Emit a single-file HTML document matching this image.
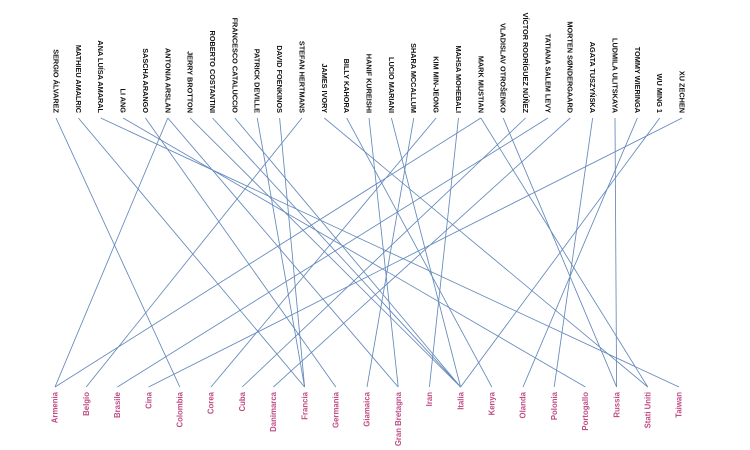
<!DOCTYPE html>
<html><head><meta charset="utf-8"><style>
html,body{margin:0;padding:0;background:#fff;}
svg{display:block;}
.n{font-family:"Liberation Sans",Arial,sans-serif;font-size:7.3px;font-weight:bold;fill:#111;}
.c{font-family:"Liberation Sans",Arial,sans-serif;font-size:7.8px;font-weight:bold;fill:#c04c86;}
line{stroke:#6388bb;stroke-width:0.85;}
</style></head><body>
<svg width="750" height="450" viewBox="0 0 750 450" xmlns="http://www.w3.org/2000/svg">
<g id="lines"></g>
<g id="names"></g>
<g id="countries"></g>
<script>
var names=["SERGIO ÁLVAREZ","MATHIEU AMALRIC","ANA LUÍSA AMARAL","LI ANG","SASCHA ARANGO","ANTONIA ARSLAN","JERRY BROTTON","ROBERTO COSTANTINI","FRANCESCO CATALUCCIO","PATRICK DEVILLE","DAVID FOENKINOS","STEFAN HERTMANS","JAMES IVORY","BILLY KAHORA","HANIF KUREISHI","LUCIO MARIANI","SHARA MCCALLUM","KIM MIN-JEONG","MAHSA MOHEBALI","MARK MUSTIAN","VLADISLAV OTROŠENKO","VÍCTOR RODRÍGUEZ NÚÑEZ","TATIANA SALEM LEVY","MORTEN SØNDERGAARD","AGATA TUSZYŃSKA","LUDMILA ULITSKAYA","TOMMY WIERINGA","WU MING 1","XU ZECHEN"];
var countries=["Armenia","Belgio","Brasile","Cina","Colombia","Corea","Cuba","Danimarca","Francia","Germania","Giamaica","Gran Bretagna","Iran","Italia","Kenya","Olanda","Polonia","Portogallo","Russia","Stati Uniti","Taiwan"];
var links=[[0,4],[1,8],[2,20],[3,17],[4,9],[5,0],[5,11],[6,13],[7,13],[8,13],[9,8],[10,8],[11,1],[12,19],[13,14],[14,11],[15,13],[16,10],[17,5],[18,12],[19,0],[19,19],[20,18],[21,6],[22,2],[23,7],[24,16],[25,18],[26,15],[27,13],[28,3]];
var NS="http://www.w3.org/2000/svg";
function nx(i){return 56+i*22.36;}
function cx(i){return 55+i*31.2;}
var gl=document.getElementById("lines"),gn=document.getElementById("names"),gc=document.getElementById("countries");
links.forEach(function(l){var e=document.createElementNS(NS,"line");e.setAttribute("x1",nx(l[0]));e.setAttribute("y1",118);e.setAttribute("x2",cx(l[1]));e.setAttribute("y2",387);gl.appendChild(e);});
names.forEach(function(n,i){var t=document.createElementNS(NS,"text");var x=nx(i);t.setAttribute("x",x);t.setAttribute("y",113);t.setAttribute("dy","0.35em");t.setAttribute("text-anchor","end");t.setAttribute("class","n");t.setAttribute("transform","rotate(90 "+x+" 113)");t.textContent=n;gn.appendChild(t);});
countries.forEach(function(n,i){var t=document.createElementNS(NS,"text");var x=cx(i);t.setAttribute("x",x);t.setAttribute("y",392);t.setAttribute("dy","0.35em");t.setAttribute("text-anchor","end");t.setAttribute("class","c");t.setAttribute("transform","rotate(-90 "+x+" 392)");t.textContent=n;gc.appendChild(t);});
</script>
</svg>
</body></html>
